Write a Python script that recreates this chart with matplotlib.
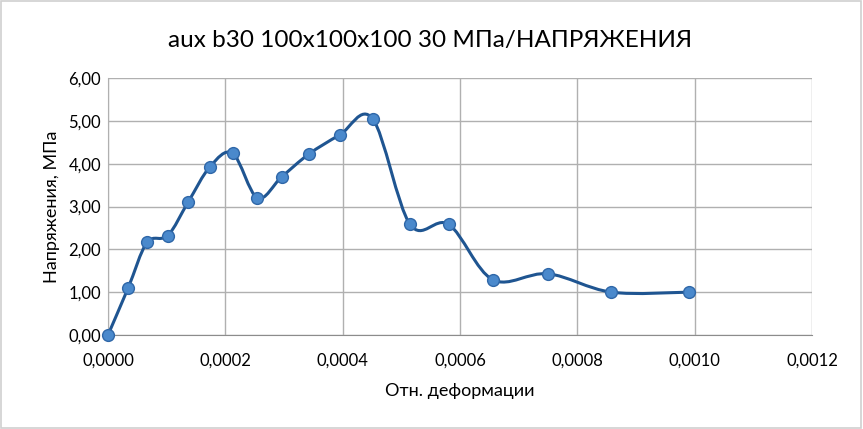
import numpy as np
import matplotlib.pyplot as plt
from matplotlib.path import Path
from matplotlib.patches import PathPatch, Rectangle
from matplotlib.ticker import FuncFormatter

plt.rcParams['font.family'] = ['Lato', 'DejaVu Sans']

strain = [0.0, 0.0000341, 0.0000665, 0.0001018, 0.0001369, 0.0001739, 0.0002126,
          0.0002546, 0.000296, 0.000342, 0.000395, 0.000451, 0.000515, 0.000581,
          0.000656, 0.00075, 0.000858, 0.00099]
stress = [0.0, 1.09, 2.16, 2.32, 3.11, 3.93, 4.24, 3.20, 3.69, 4.22, 4.67, 5.05,
          2.58, 2.58, 1.29, 1.43, 1.00, 1.00]

title = "aux b30 100x100x100 30 МПа/НАПРЯЖЕНИЯ"
xlabel = "Отн. деформации"
ylabel = "Напряжения, МПа"

line_color = "#1F5591"
marker_face = "#4A89CC"
marker_edge = "#2F67A8"
grid_color = "#B0B0B0"

fig = plt.figure(figsize=(8.63, 4.29), dpi=100)
ax = fig.add_axes([108 / 863, 1 - 335 / 429, (812 - 108) / 863, (335 - 78) / 429])

# smooth line like Excel (Catmull-Rom through points as cubic Bezier)
x = np.array(strain)
y = np.array(stress)
px = np.concatenate([[x[0]], x, [x[-1]]])
py = np.concatenate([[y[0]], y, [y[-1]]])
verts = [(x[0], y[0])]
codes = [Path.MOVETO]
for i in range(1, len(px) - 2):
    c1 = (px[i] + (px[i + 1] - px[i - 1]) / 6, py[i] + (py[i + 1] - py[i - 1]) / 6)
    c2 = (px[i + 1] - (px[i + 2] - px[i]) / 6, py[i + 1] - (py[i + 2] - py[i]) / 6)
    verts += [c1, c2, (px[i + 1], py[i + 1])]
    codes += [Path.CURVE4] * 3
ax.add_patch(PathPatch(Path(verts, codes), fill=False, edgecolor=line_color, lw=2.2,
                       zorder=3, clip_on=False))
ax.plot(strain, stress, linestyle="none", marker="o", markersize=8.5,
        markerfacecolor=marker_face, markeredgecolor=marker_edge, markeredgewidth=1,
        zorder=4, clip_on=False)

ax.set_xlim(0, 0.0012)
ax.set_ylim(0, 6)
ax.set_xticks(np.arange(0, 0.00121, 0.0002))
ax.set_yticks(np.arange(0, 6.01, 1))
ax.xaxis.set_major_formatter(FuncFormatter(lambda v, p: f"{v:.4f}".replace(".", ",")))
ax.yaxis.set_major_formatter(FuncFormatter(lambda v, p: f"{v:.2f}".replace(".", ",")))
ax.grid(True, color=grid_color, lw=1)
ax.set_axisbelow(True)
for s in ["top", "right"]:
    ax.spines[s].set_visible(False)
ax.spines["left"].set_color(grid_color)
ax.spines["bottom"].set_color("#8C8C8C")
ax.tick_params(axis="x", length=0, labelsize=12, colors="#000000", pad=13)
ax.tick_params(axis="y", length=0, labelsize=12, colors="#000000", pad=5)
ax.set_xlabel(xlabel, fontsize=13, labelpad=10)
ax.set_ylabel(ylabel, fontsize=13, labelpad=6)

fig.text(430 / 863, 1 - 40 / 429, title, ha="center", va="center", fontsize=17.5)
fig.patches.append(Rectangle((0.001, 0.003), 0.997, 0.995, transform=fig.transFigure,
                             fill=False, edgecolor="#D0D0D0", lw=1.2))

fig.savefig("out.png", dpi=100)
